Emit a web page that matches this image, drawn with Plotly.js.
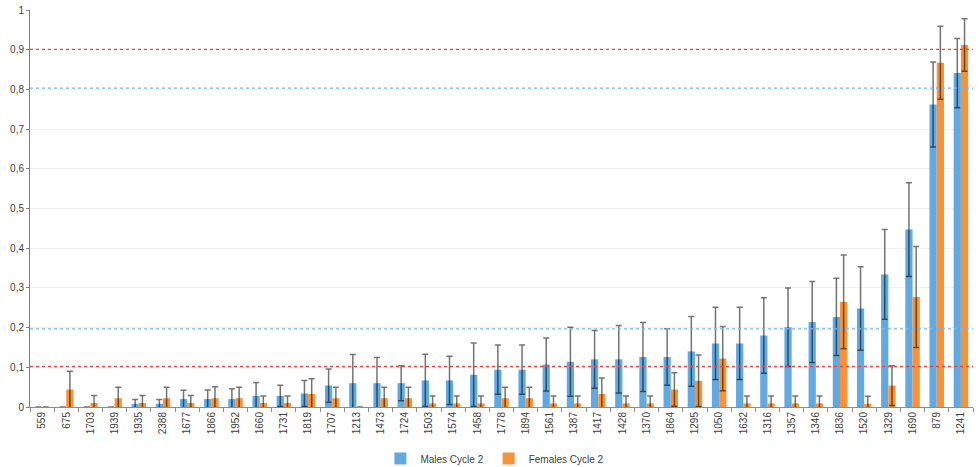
<!DOCTYPE html>
<html>
<head>
<meta charset="utf-8">
<script src="https://cdn.plot.ly/plotly-3.0.1.min.js"></script>
<style>
  html, body { margin: 0; padding: 0; background: #ffffff; }
  #chart { width: 979px; height: 467px; }
</style>
</head>
<body>
<div id="chart"></div>
<script>
const categories = ['559','675','1703','1939','1935','2388','1677','1866','1952','1660','1731','1819','1707','1213','1473','1724','1503','1574','1458','1778','1894','1561','1387','1417','1428','1370','1864','1295','1050','1632','1316','1357','1346','1836','1520','1329','1690','879','1241'];

const males = [0,0,0,0,0.008,0.008,0.020,0.020,0.020,0.028,0.028,0.034,0.054,0.060,0.060,0.060,0.067,0.067,0.081,0.094,0.094,0.107,0.114,0.120,0.120,0.126,0.126,0.140,0.160,0.160,0.180,0.201,0.214,0.227,0.248,0.334,0.447,0.762,0.841];
const malesErr = [0,0,0,0,0.011,0.011,0.022,0.023,0.026,0.034,0.027,0.033,0.042,0.072,0.065,0.044,0.066,0.061,0.080,0.062,0.062,0.067,0.087,0.073,0.085,0.087,0.071,0.088,0.091,0.091,0.095,0.099,0.102,0.097,0.105,0.113,0.118,0.107,0.087];

const females = [0,0.044,0.010,0.022,0.010,0.022,0.010,0.022,0.022,0.010,0.010,0.033,0.022,0,0.022,0.022,0.009,0.009,0.009,0.022,0.022,0.009,0.009,0.033,0.009,0.009,0.044,0.066,0.122,0.009,0.009,0.009,0.009,0.265,0.008,0.054,0.277,0.867,0.912];
const femalesErr = [0,0.046,0.019,0.028,0.019,0.028,0.019,0.029,0.028,0.018,0.018,0.038,0.028,0,0.028,0.028,0.019,0.019,0.019,0.028,0.028,0.019,0.019,0.040,0.019,0.019,0.042,0.065,0.081,0.019,0.019,0.019,0.019,0.118,0.019,0.050,0.127,0.092,0.066];

const seriesNames = ['Males Cycle 2', 'Females Cycle 2'];
const yTickVals = [0,0.1,0.2,0.3,0.4,0.5,0.6,0.7,0.8,0.9,1];
const redThresholds = [0.102, 0.901];
const blueThresholds = [0.197, 0.803];

const errStyle = { color: 'rgba(0,0,0,0.55)', thickness: 1.5, width: 3 };

const traces = [
  {
    type: 'bar', name: seriesNames[0], x: categories, y: males,
    marker: { color: '#62A9E2' },
    error_y: Object.assign({ type: 'data', array: malesErr, symmetric: true, visible: true }, errStyle),
    hoverinfo: 'x+y'
  },
  {
    type: 'bar', name: seriesNames[1], x: categories, y: females,
    marker: { color: '#F7923A' },
    error_y: Object.assign({ type: 'data', array: femalesErr, symmetric: true, visible: true }, errStyle),
    hoverinfo: 'x+y'
  }
];

const shapes = [];
redThresholds.forEach(v => shapes.push({
  type: 'line', xref: 'paper', x0: 0, x1: 1, yref: 'y', y0: v, y1: v,
  line: { color: '#E5483F', width: 1.3, dash: 'dot' }, layer: 'above'
}));
blueThresholds.forEach(v => shapes.push({
  type: 'line', xref: 'paper', x0: 0, x1: 1, yref: 'y', y0: v, y1: v,
  line: { color: '#7DB6E4', width: 1.3, dash: 'dot' }, layer: 'above'
}));

const layout = {
  width: 979, height: 467,
  margin: { l: 30, r: 6, t: 10, b: 60, autoexpand: false },
  paper_bgcolor: '#ffffff', plot_bgcolor: '#ffffff',
  separators: ', ',
  font: { family: 'Liberation Sans, Arial, sans-serif', size: 10, color: '#404040' },
  barmode: 'group', bargap: 0.4, bargroupgap: 0,
  showlegend: true,
  legend: {
    orientation: 'h', x: 0.493, xanchor: 'center', y: -0.13, yanchor: 'middle',
    font: { size: 10, color: '#404040' }, itemwidth: 30, traceorder: 'normal'
  },
  xaxis: {
    type: 'category', tickangle: -90, showgrid: false,
    showline: true, linecolor: '#8c8c8c', linewidth: 1,
    ticks: 'outside', tickson: 'boundaries', ticklen: 4, tickcolor: '#8c8c8c',
    tickfont: { size: 10, color: '#404040' }, automargin: false, fixedrange: true
  },
  yaxis: {
    range: [0, 1], tickvals: yTickVals, tickformat: '.1~f',
    showgrid: true, gridcolor: '#f0f0f0', gridwidth: 1, zeroline: false,
    showline: true, linecolor: '#7f7f7f', linewidth: 1,
    ticks: 'outside', ticklen: 3, tickcolor: '#7f7f7f',
    tickfont: { size: 10, color: '#404040' }, automargin: false, fixedrange: true
  },
  shapes: shapes
};

Plotly.newPlot('chart', traces, layout, { displayModeBar: false, staticPlot: true });
</script>
</body>
</html>
